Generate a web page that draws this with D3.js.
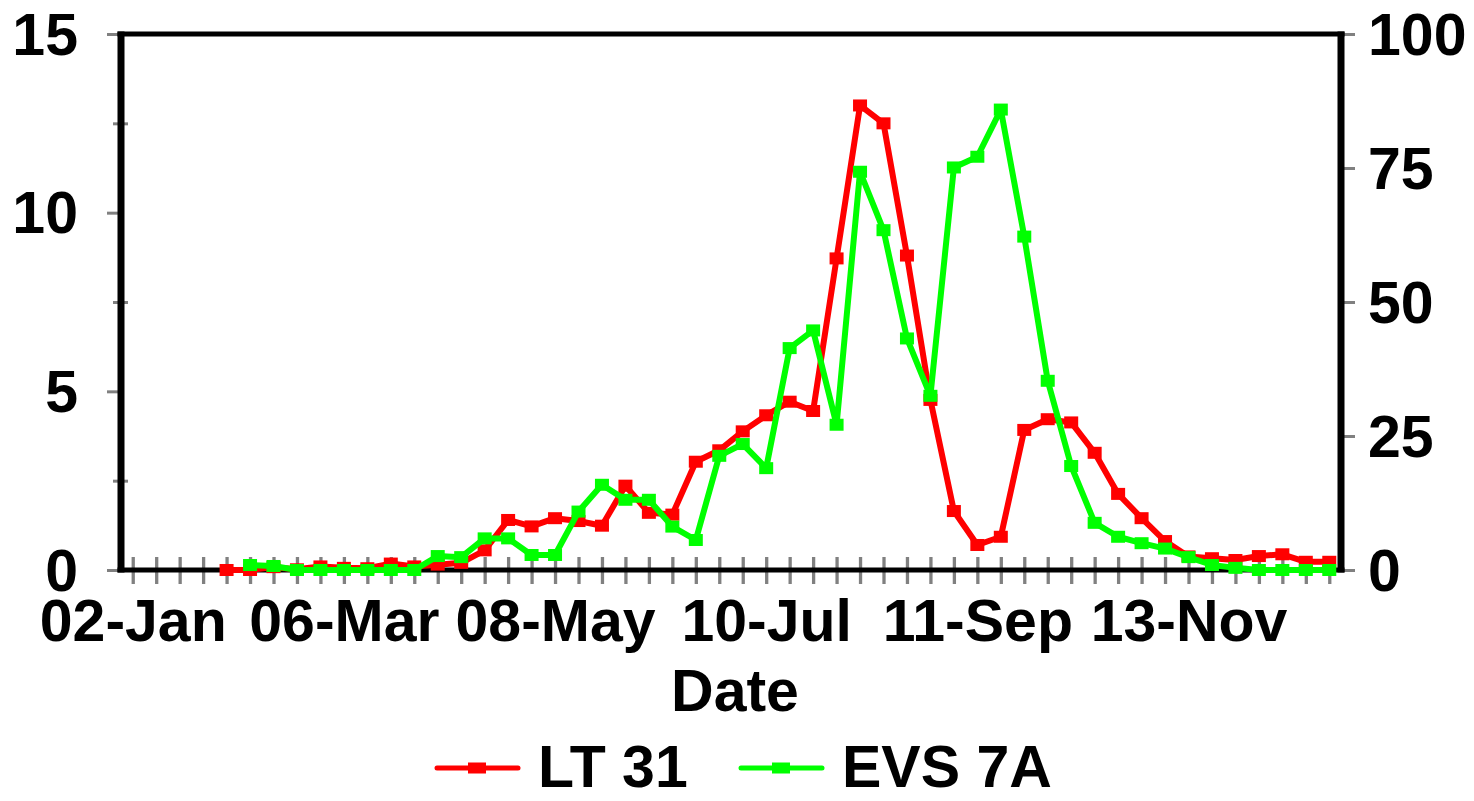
<!DOCTYPE html>
<html><head><meta charset="utf-8">
<script src="https://cdn.jsdelivr.net/npm/d3@7"></script>
<style>
html,body{margin:0;padding:0;background:#fff;}
svg{display:block;}
text{font-family:"Liberation Sans",Arial,sans-serif;font-weight:bold;fill:#000;}
</style></head>
<body>
<svg id="chart" width="1474" height="801"></svg>
<script>
const categories = ["02-Jan","09-Jan","16-Jan","23-Jan","30-Jan","06-Feb","13-Feb","20-Feb","27-Feb",
"06-Mar","13-Mar","20-Mar","27-Mar","03-Apr","10-Apr","17-Apr","24-Apr","01-May","08-May","15-May",
"22-May","29-May","05-Jun","12-Jun","19-Jun","26-Jun","03-Jul","10-Jul","17-Jul","24-Jul","31-Jul",
"07-Aug","14-Aug","21-Aug","28-Aug","04-Sep","11-Sep","18-Sep","25-Sep","02-Oct","09-Oct","16-Oct",
"23-Oct","30-Oct","06-Nov","13-Nov","20-Nov","27-Nov","04-Dec","11-Dec","18-Dec","25-Dec"];
const xTickLabels = ["02-Jan","06-Mar","08-May","10-Jul","11-Sep","13-Nov"];
const leftTicks = [0,5,10,15];
const leftMinorTicks = [2.5,7.5,12.5];
const rightTicks = [0,25,50,75,100];
const lt31 = [null,null,null,null,0.0,0.0,0.08,0.02,0.1,0.06,0.05,0.18,0.1,0.15,0.2,0.55,1.4,1.22,1.45,1.37,
1.24,2.36,1.6,1.55,3.03,3.35,3.88,4.33,4.71,4.45,8.72,13.0,12.5,8.8,4.76,1.65,0.7,0.93,3.92,4.22,4.13,3.28,
2.13,1.45,0.81,0.38,0.33,0.28,0.39,0.44,0.23,0.23];
const evs7a = [null,null,null,null,null,0.93,0.75,0,0,0,0,0,0,2.6,2.4,5.9,5.9,2.8,2.8,10.9,15.9,13.1,13.1,8.1,
5.6,21.3,23.5,19.0,41.4,44.7,27.1,74.3,63.4,43.2,32.5,75.1,77.1,85.9,62.2,35.3,19.4,8.8,6.2,5.0,4.0,2.4,
0.93,0.4,0,0,0,0];
const seriesNames = ["LT 31","EVS 7A"];
const seriesColors = ["#ff0000","#00ff00"];

const svg = d3.select("#chart");
const L = 121, R = 1341, T = 34, B = 570;
const x = d3.scalePoint().domain(categories).range([L, R]).padding(0.5);
const yL = d3.scaleLinear().domain([0,15]).range([B, T]);
const yR = d3.scaleLinear().domain([0,100]).range([B, T]);
const FS = 59;

// x axis ticks (gray crossing)
const gx = svg.append("g").attr("transform", `translate(0,${B})`)
  .call(d3.axisBottom(x).tickSize(14).tickSizeOuter(0)
    .tickFormat(d => xTickLabels.includes(d) ? d : ""));
gx.select(".domain").remove();
gx.selectAll(".tick line").attr("y1", -13).attr("y2", 14).attr("stroke", "#808080").attr("stroke-width", 3.3);
gx.selectAll(".tick text").attr("y", 71).attr("dy", null).attr("font-size", FS).attr("fill", "#000")
  .attr("font-family", "Liberation Sans, Arial, sans-serif").attr("font-weight", "bold");

// left axis
const gl = svg.append("g").attr("transform", `translate(${L},0)`)
  .call(d3.axisLeft(yL).tickValues(leftTicks).tickSize(14).tickSizeOuter(0).tickFormat(d3.format("d")));
gl.select(".domain").remove();
gl.selectAll(".tick line").attr("stroke", "#808080").attr("stroke-width", 3);
gl.selectAll(".tick text").attr("x", -43).attr("dy", "0.34em").attr("font-size", FS)
  .attr("font-family", "Liberation Sans, Arial, sans-serif").attr("font-weight", "bold").attr("fill","#000");
const glm = svg.append("g").attr("transform", `translate(${L},0)`)
  .call(d3.axisLeft(yL).tickValues(leftMinorTicks).tickSize(8).tickSizeOuter(0).tickFormat(""));
glm.select(".domain").remove();
glm.selectAll(".tick line").attr("x1", 7).attr("x2", -8).attr("stroke", "#808080").attr("stroke-width", 3);

// right axis
const gr = svg.append("g").attr("transform", `translate(${R},0)`)
  .call(d3.axisRight(yR).tickValues(rightTicks).tickSize(14).tickSizeOuter(0).tickFormat(d3.format("d")));
gr.select(".domain").remove();
gr.selectAll(".tick line").attr("stroke", "#808080").attr("stroke-width", 3);
gr.selectAll(".tick text").attr("x", 27).attr("dy", "0.34em").attr("font-size", FS)
  .attr("font-family", "Liberation Sans, Arial, sans-serif").attr("font-weight", "bold").attr("fill","#000");

// frame
const frame = svg.append("g").attr("stroke", "#000");
frame.append("line").attr("x1", L - 3.5).attr("x2", R + 3.5).attr("y1", T).attr("y2", T).attr("stroke-width", 5);
frame.append("line").attr("x1", L - 3.5).attr("x2", R + 3.5).attr("y1", B).attr("y2", B).attr("stroke-width", 5);
frame.append("line").attr("x1", L).attr("x2", L).attr("y1", T - 2.5).attr("y2", B + 2.5).attr("stroke-width", 7);
frame.append("line").attr("x1", R).attr("x2", R).attr("y1", T - 2.5).attr("y2", B + 2.5).attr("stroke-width", 7);

// series
const series = [
  {name: seriesNames[0], color: seriesColors[0], values: lt31, y: yL},
  {name: seriesNames[1], color: seriesColors[1], values: evs7a, y: yR}
];
const MW = 14, MH = 12;
series.forEach(s => {
  const pts = categories.map((c, i) => ({c, v: s.values[i]})).filter(p => p.v !== null);
  const line = d3.line().x(p => x(p.c)).y(p => s.y(p.v));
  svg.append("path").datum(pts).attr("d", line).attr("fill", "none")
    .attr("stroke", s.color).attr("stroke-width", 6).attr("stroke-linejoin", "round");
  svg.append("g").selectAll("rect").data(pts).join("rect")
    .attr("x", p => x(p.c) - MW/2).attr("y", p => s.y(p.v) - MH/2)
    .attr("width", MW).attr("height", MH).attr("fill", s.color);
});

// x title
svg.append("text").attr("x", 735).attr("y", 711).attr("text-anchor", "middle").attr("font-size", FS).text("Date");

// legend
const legendPos = [{lx: 437, tx: 538}, {lx: 741, tx: 842}];
series.forEach((s, i) => {
  const g = svg.append("g");
  const p = legendPos[i];
  g.append("line").attr("x1", p.lx).attr("x2", p.lx + 81).attr("y1", 768).attr("y2", 768)
    .attr("stroke", s.color).attr("stroke-width", 5).attr("stroke-linecap", "round");
  g.append("rect").attr("x", p.lx + 31).attr("y", 762.5).attr("width", 18).attr("height", 11).attr("fill", s.color);
  g.append("text").attr("x", p.tx).attr("y", 787).attr("font-size", FS).text(s.name);
});
</script>
</body></html>
